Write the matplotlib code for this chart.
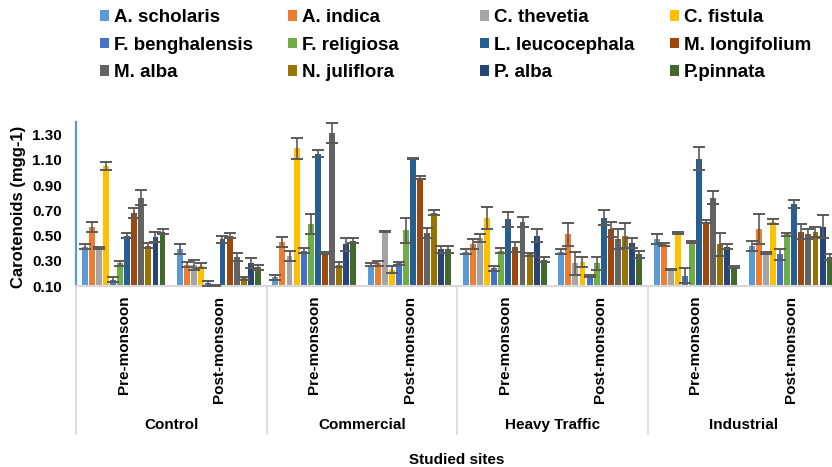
import matplotlib
matplotlib.use("Agg")
import matplotlib.pyplot as plt
import matplotlib.transforms as mtransforms
from matplotlib.lines import Line2D
from matplotlib.patches import Patch
import numpy as np

plt.rcParams["font.family"] = ["Liberation Sans", "DejaVu Sans"]
plt.rcParams["font.weight"] = "bold"

# Sites and seasons (x categories)
sites = ["Control", "Commercial", "Heavy Traffic", "Industrial"]
seasons = ["Pre-monsoon", "Post-monsoon"]

species = ["A. scholaris", "A. indica", "C. thevetia", "C. fistula",
           "F. benghalensis", "F. religiosa", "L. leucocephala", "M. longifolium",
           "M. alba", "N. juliflora", "P. alba", "P.pinnata"]

colors = ["#5B9BD5", "#ED7D31", "#A5A5A5", "#FFC000",
          "#4472C4", "#70AD47", "#255E91", "#9E480E",
          "#636363", "#997300", "#264478", "#43682B"]

# Carotenoid content (mg g-1), order: Control pre/post, Commercial pre/post,
# Heavy Traffic pre/post, Industrial pre/post
a_scholaris = [0.41, 0.39, 0.17, 0.27, 0.37, 0.37, 0.47, 0.42]
a_indica = [0.57, 0.27, 0.45, 0.28, 0.43, 0.51, 0.43, 0.55]
c_thevetia = [0.40, 0.27, 0.34, 0.53, 0.48, 0.28, 0.23, 0.36]
c_fistula = [1.05, 0.26, 1.19, 0.23, 0.64, 0.29, 0.52, 0.61]
f_benghalensis = [0.15, 0.12, 0.38, 0.28, 0.24, 0.18, 0.18, 0.35]
f_religiosa = [0.28, 0.10, 0.59, 0.54, 0.38, 0.28, 0.45, 0.51]
l_leucocephala = [0.50, 0.47, 1.15, 1.11, 0.63, 0.64, 1.11, 0.75]
m_longifolium = [0.68, 0.50, 0.36, 0.96, 0.41, 0.55, 0.61, 0.53]
m_alba = [0.80, 0.33, 1.31, 0.52, 0.61, 0.47, 0.80, 0.51]
n_juliflora = [0.42, 0.16, 0.27, 0.68, 0.35, 0.50, 0.43, 0.53]
p_alba = [0.49, 0.28, 0.43, 0.39, 0.50, 0.44, 0.41, 0.57]
p_pinnata = [0.53, 0.25, 0.46, 0.39, 0.31, 0.35, 0.25, 0.33]

# Standard errors
err_a_scholaris = [0.02, 0.04, 0.02, 0.01, 0.02, 0.02, 0.04, 0.04]
err_a_indica = [0.04, 0.02, 0.04, 0.02, 0.04, 0.09, 0.01, 0.12]
err_c_thevetia = [0.01, 0.04, 0.04, 0.005, 0.03, 0.09, 0.005, 0.01]
err_c_fistula = [0.03, 0.02, 0.08, 0.03, 0.09, 0.04, 0.01, 0.02]
err_f_benghalensis = [0.02, 0.02, 0.02, 0.01, 0.02, 0.01, 0.06, 0.04]
err_f_religiosa = [0.02, 0.01, 0.08, 0.10, 0.02, 0.05, 0.01, 0.01]
err_l_leucocephala = [0.02, 0.03, 0.03, 0.005, 0.06, 0.06, 0.09, 0.03]
err_m_longifolium = [0.04, 0.02, 0.01, 0.01, 0.04, 0.06, 0.01, 0.06]
err_m_alba = [0.06, 0.03, 0.08, 0.04, 0.04, 0.08, 0.05, 0.04]
err_n_juliflora = [0.02, 0.01, 0.02, 0.02, 0.01, 0.10, 0.09, 0.04]
err_p_alba = [0.04, 0.04, 0.05, 0.03, 0.05, 0.04, 0.02, 0.09]
err_p_pinnata = [0.02, 0.02, 0.02, 0.03, 0.02, 0.03, 0.005, 0.02]

values = [a_scholaris, a_indica, c_thevetia, c_fistula, f_benghalensis, f_religiosa,
          l_leucocephala, m_longifolium, m_alba, n_juliflora, p_alba, p_pinnata]
errors = [err_a_scholaris, err_a_indica, err_c_thevetia, err_c_fistula,
          err_f_benghalensis, err_f_religiosa, err_l_leucocephala, err_m_longifolium,
          err_m_alba, err_n_juliflora, err_p_alba, err_p_pinnata]

y_ticks = [0.10, 0.30, 0.50, 0.70, 0.90, 1.10, 1.30]

W, H = 832, 467
fig = plt.figure(figsize=(W / 100, H / 100), dpi=100)
ax_left, ax_bottom, ax_top = 76, 286, 122
cat_px = 95.3
ax = fig.add_axes([ax_left / W, (H - ax_bottom) / H,
                   8 * cat_px / W, (ax_bottom - ax_top) / H])

n_cat = len(sites) * len(seasons)
centers = np.arange(n_cat) + 0.5
span = 0.89
step = span / len(species)
fill = 0.062

for j, (name, vals, errs, col) in enumerate(zip(species, values, errors, colors)):
    x = centers - span / 2 + step * (j + 0.5)
    ax.bar(x, vals, width=fill, color=col, label=name, zorder=2)
    ax.errorbar(x, vals, yerr=errs, fmt="none", ecolor="#5A5A5A",
                elinewidth=1.2, capsize=4.2, capthick=1.4, zorder=3)

ax.set_xlim(0, n_cat)
ax.set_ylim(0.10, 1.40)
ax.set_yticks(y_ticks)
ax.set_yticklabels([f"{v:.2f}" for v in y_ticks], fontsize=11, fontweight="bold")
ax.set_xticks(centers)
ax.set_xticklabels(seasons * len(sites), rotation=90, fontsize=11,
                   fontweight="bold", va="top", ha="center")
ax.tick_params(axis="both", length=0)
ax.tick_params(axis="x", pad=7)
ax.tick_params(axis="y", pad=10)

for side in ("top", "right"):
    ax.spines[side].set_visible(False)
ax.spines["left"].set_color("#5B9BD5")
ax.spines["left"].set_linewidth(1.6)
ax.spines["bottom"].set_color("#D9D9D9")
ax.spines["bottom"].set_linewidth(1.5)

# Site labels and separators below the season labels
blend = mtransforms.blended_transform_factory(ax.transData, fig.transFigure)
for k, site in enumerate(sites):
    ax.text(2 * k + 1, (H - 425) / H, site, transform=blend, ha="center",
            va="center", fontsize=11, fontweight="bold")
for k in range(len(sites) + 1):
    ax.add_line(Line2D([2 * k, 2 * k], [(H - 286) / H, (H - 434) / H],
                       transform=blend, color="#D9D9D9", lw=1.2, clip_on=False))

fig.text(457 / W, (H - 460) / H, "Studied sites", ha="center", va="center",
         fontsize=11, fontweight="bold")
fig.text(19 / W, (H - 207) / H, "Carotenoids (mgg-1)", rotation=90,
         ha="center", va="center", fontsize=12, fontweight="bold")

# Legend laid out in four columns, filled row by row
col_x = [100, 288, 480, 670]
for c in range(4):
    idx = [c, c + 4, c + 8]
    handles = [Patch(facecolor=colors[i], edgecolor="none") for i in idx]
    fig.legend(handles, [species[i] for i in idx], loc="upper left",
               bbox_to_anchor=(col_x[c] / W, 1 - 9 / H), frameon=False,
               handlelength=0.5, handleheight=0.5,
               handletextpad=0.25, labelspacing=0.57, borderpad=0,
               borderaxespad=0, prop={"weight": "bold", "size": 13.5})

fig.savefig("out.png", dpi=100)
